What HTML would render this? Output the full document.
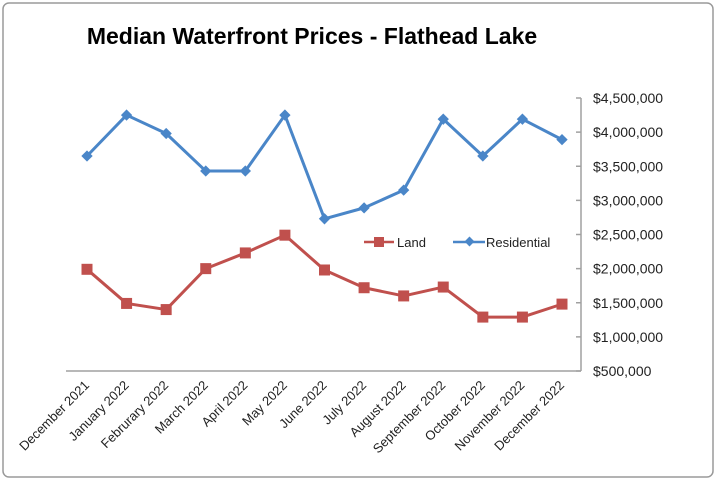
<!DOCTYPE html>
<html><head><meta charset="utf-8"><style>
body{margin:0;background:#fff;}
svg{display:block;font-family:"Liberation Sans",sans-serif;}
</style></head><body>
<svg width="718" height="484">
<rect x="3" y="3" width="710" height="474" rx="6" fill="#fff" stroke="#9a9a9a" stroke-width="1.5"/>
<text x="312" y="44" text-anchor="middle" font-size="23" font-weight="bold" fill="#000">Median Waterfront Prices - Flathead Lake</text>
<line x1="66" y1="371" x2="581" y2="371" stroke="#a0a0a0" stroke-width="1.5"/>
<line x1="581" y1="98" x2="581" y2="371" stroke="#a0a0a0" stroke-width="1.5"/>
<g id="yticks"></g><g id="xlabels"></g>
<g id="series"></g>
<g>
<line x1="364" y1="242" x2="394" y2="242" stroke="#c0504d" stroke-width="2.5"/>
<rect x="374" y="237" width="10" height="10" fill="#c0504d"/>
<text x="397" y="247" font-size="13" fill="#222">Land</text>
<line x1="453" y1="242" x2="485" y2="242" stroke="#4a86c8" stroke-width="2.5"/>
<rect x="466" y="238" width="7" height="7" fill="#4a86c8" transform="rotate(45 469.5 241.5)"/>
<text x="486" y="247" font-size="13" fill="#222">Residential</text>
</g>
</svg>
<script>
const categories=["December 2021","January 2022","Februrary 2022","March 2022","April 2022","May 2022","June 2022","July 2022","August 2022","September 2022","October 2022","November 2022","December 2022"];
const residential=[3.65,4.25,3.98,3.43,3.43,4.25,2.73,2.89,3.15,4.19,3.65,4.19,3.89];
const land=[1.99,1.49,1.4,2.0,2.23,2.49,1.98,1.72,1.6,1.73,1.29,1.29,1.48];
const yTicks=[0.5,1,1.5,2,2.5,3,3.5,4,4.5];
const yTickLabels=["$500,000","$1,000,000","$1,500,000","$2,000,000","$2,500,000","$3,000,000","$3,500,000","$4,000,000","$4,500,000"];
const NS="http://www.w3.org/2000/svg";
const x=i=>87+i*(562-87)/(categories.length-1);
const y=v=>371-(v-0.5)*(273/4);
function mk(t,a,p){const e=document.createElementNS(NS,t);for(const k in a)e.setAttribute(k,a[k]);p.appendChild(e);return e;}
const yt=document.getElementById('yticks');
yTicks.forEach((v,i)=>{
 const l=mk('line',{x1:576,x2:581,y1:y(v),y2:y(v),stroke:'#a0a0a0','stroke-width':1.5},yt);
 
 
 const t=mk('text',{x:593,y:y(v)+5,'font-size':14,fill:'#222'},yt);
 t.textContent=yTickLabels[i];
 
 
});
const xl=document.getElementById('xlabels');
categories.forEach((c,i)=>{
 const t=mk('text',{x:x(i)+3,y:386,'font-size':13,fill:'#222','text-anchor':'end',transform:`rotate(-45 ${x(i)+3} 386)`},xl);
 t.textContent=c;
 
 
});
const g=document.getElementById('series');
function line(vals,color,name){
 const p=mk('polyline',{points:vals.map((v,i)=>x(i)+','+y(v)).join(' '),fill:'none',stroke:color,'stroke-width':3,'stroke-linejoin':'round'},g);
 
 
}
line(land,'#c0504d','land');
line(residential,'#4a86c8','residential');
land.forEach((v,i)=>{
 const r=mk('rect',{x:x(i)-5.5,y:y(v)-5.5,width:11,height:11,fill:'#c0504d'},g);
 
 
});
residential.forEach((v,i)=>{
 const r=mk('rect',{x:x(i)-4,y:y(v)-4,width:8,height:8,fill:'#4a86c8',transform:`rotate(45 ${x(i)} ${y(v)})`},g);
 
 
});
</script>
</body></html>
